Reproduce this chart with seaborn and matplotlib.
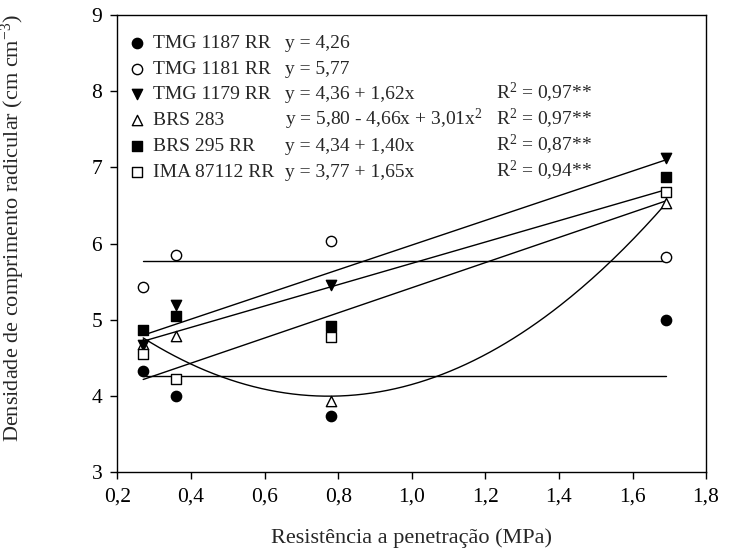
import numpy as np
import pandas as pd
import matplotlib
matplotlib.use("Agg")
import matplotlib.pyplot as plt
import seaborn as sns

# data
resistencia = [0.27, 0.36, 0.78, 1.69]
cultivares = ["TMG 1187 RR", "TMG 1181 RR", "TMG 1179 RR", "BRS 283", "BRS 295 RR", "IMA 87112 RR"]
tmg1187 = [4.33, 4.00, 3.73, 5.00]
tmg1181 = [5.43, 5.85, 6.03, 5.82]
tmg1179 = [4.67, 5.20, 5.45, 7.12]
brs283 = [4.68, 4.78, 3.93, 6.53]
brs295 = [4.87, 5.05, 4.92, 6.87]
ima87112 = [4.55, 4.22, 4.77, 6.68]

# fitted equations shown in the legend (intercept, linear, quadratic)
coefs = [(4.26, 0, 0), (5.77, 0, 0), (4.36, 1.62, 0), (5.80, -4.66, 3.01), (4.34, 1.40, 0), (3.77, 1.65, 0)]
equacoes = ["y = 4,26", "y = 5,77", "y = 4,36 + 1,62x", "y = 5,80 - 4,66x + 3,01x$^{2}$",
            "y = 4,34 + 1,40x", "y = 3,77 + 1,65x"]
r2 = ["", "", "R$^{2}$ = 0,97**", "R$^{2}$ = 0,97**", "R$^{2}$ = 0,87**", "R$^{2}$ = 0,94**"]

markers = ["o", "o", "v", "^", "s", "s"]
filled = [True, False, True, False, True, False]
valores = [tmg1187, tmg1181, tmg1179, brs283, brs295, ima87112]

sns.set_theme(style="white")
plt.rcParams["font.family"] = ["Liberation Serif", "DejaVu Serif"]
plt.rcParams["mathtext.fontset"] = "custom"
plt.rcParams["mathtext.rm"] = "Liberation Serif"
plt.rcParams["mathtext.it"] = "Liberation Serif:italic"

fig, ax = plt.subplots(figsize=(7.34, 5.58), dpi=100)
fig.subplots_adjust(left=0.16, right=0.962, top=0.973, bottom=0.154)

xfit = np.linspace(min(resistencia), max(resistencia), 200)
for (a, b, c) in coefs:
    fit = pd.DataFrame({"x": xfit, "y": a + b * xfit + c * xfit ** 2})
    sns.lineplot(data=fit, x="x", y="y", color="black", lw=1.0, ax=ax, legend=False)

# draw BRS 283 before TMG 1179 so the triangle at 0.27 is hidden like in the reference
order = [0, 1, 3, 2, 4, 5]
handles = {}
for i in order:
    df = pd.DataFrame({"x": resistencia, "y": valores[i]})
    sns.scatterplot(data=df, x="x", y="y", marker=markers[i], s=55,
                    facecolor="black" if filled[i] else "white",
                    edgecolor="black", linewidth=1.0, ax=ax, zorder=3)
    handles[i] = ax.collections[-1]

ax.set_xlim(0.2, 1.8)
ax.set_ylim(3, 9)
ax.set_xticks(np.arange(0.2, 1.81, 0.2))
ax.set_xticklabels([f"{v:.1f}".replace(".", ",") for v in np.arange(0.2, 1.81, 0.2)])
ax.set_yticks(range(3, 10))
ax.tick_params(axis="both", direction="out", length=5, width=1, labelsize=15.5, colors="black", pad=6)
ax.tick_params(axis="both", bottom=True, left=True)
for sp in ax.spines.values():
    sp.set_color("black")
    sp.set_linewidth(1.0)

ax.set_xlabel("Resistência a penetração (MPa)", fontsize=16, labelpad=16)
ax.set_ylabel("Densidade de comprimento radicular (cm cm$^{-3}$)", fontsize=16)
ax.yaxis.set_label_coords(-0.153, 0.535)

leg = ax.legend([handles[i] for i in range(6)], cultivares, loc="upper left",
                bbox_to_anchor=(0.007, 0.975), frameon=False, fontsize=14,
                handlelength=0.8, handletextpad=0.4, labelspacing=0.42, borderaxespad=0)

fig.canvas.draw()
inv = ax.transAxes.inverted()
for i, t in enumerate(leg.get_texts()):
    # baseline of the legend label, so the equation columns line up with it
    base = t.get_transform().transform(t.get_position())
    yb = inv.transform(base)[1]
    ax.text(0.285, yb, equacoes[i], transform=ax.transAxes, fontsize=14, va="baseline")
    if r2[i]:
        ax.text(0.643, yb, r2[i], transform=ax.transAxes, fontsize=14, va="baseline")

fig.savefig("out.png", dpi=100)
